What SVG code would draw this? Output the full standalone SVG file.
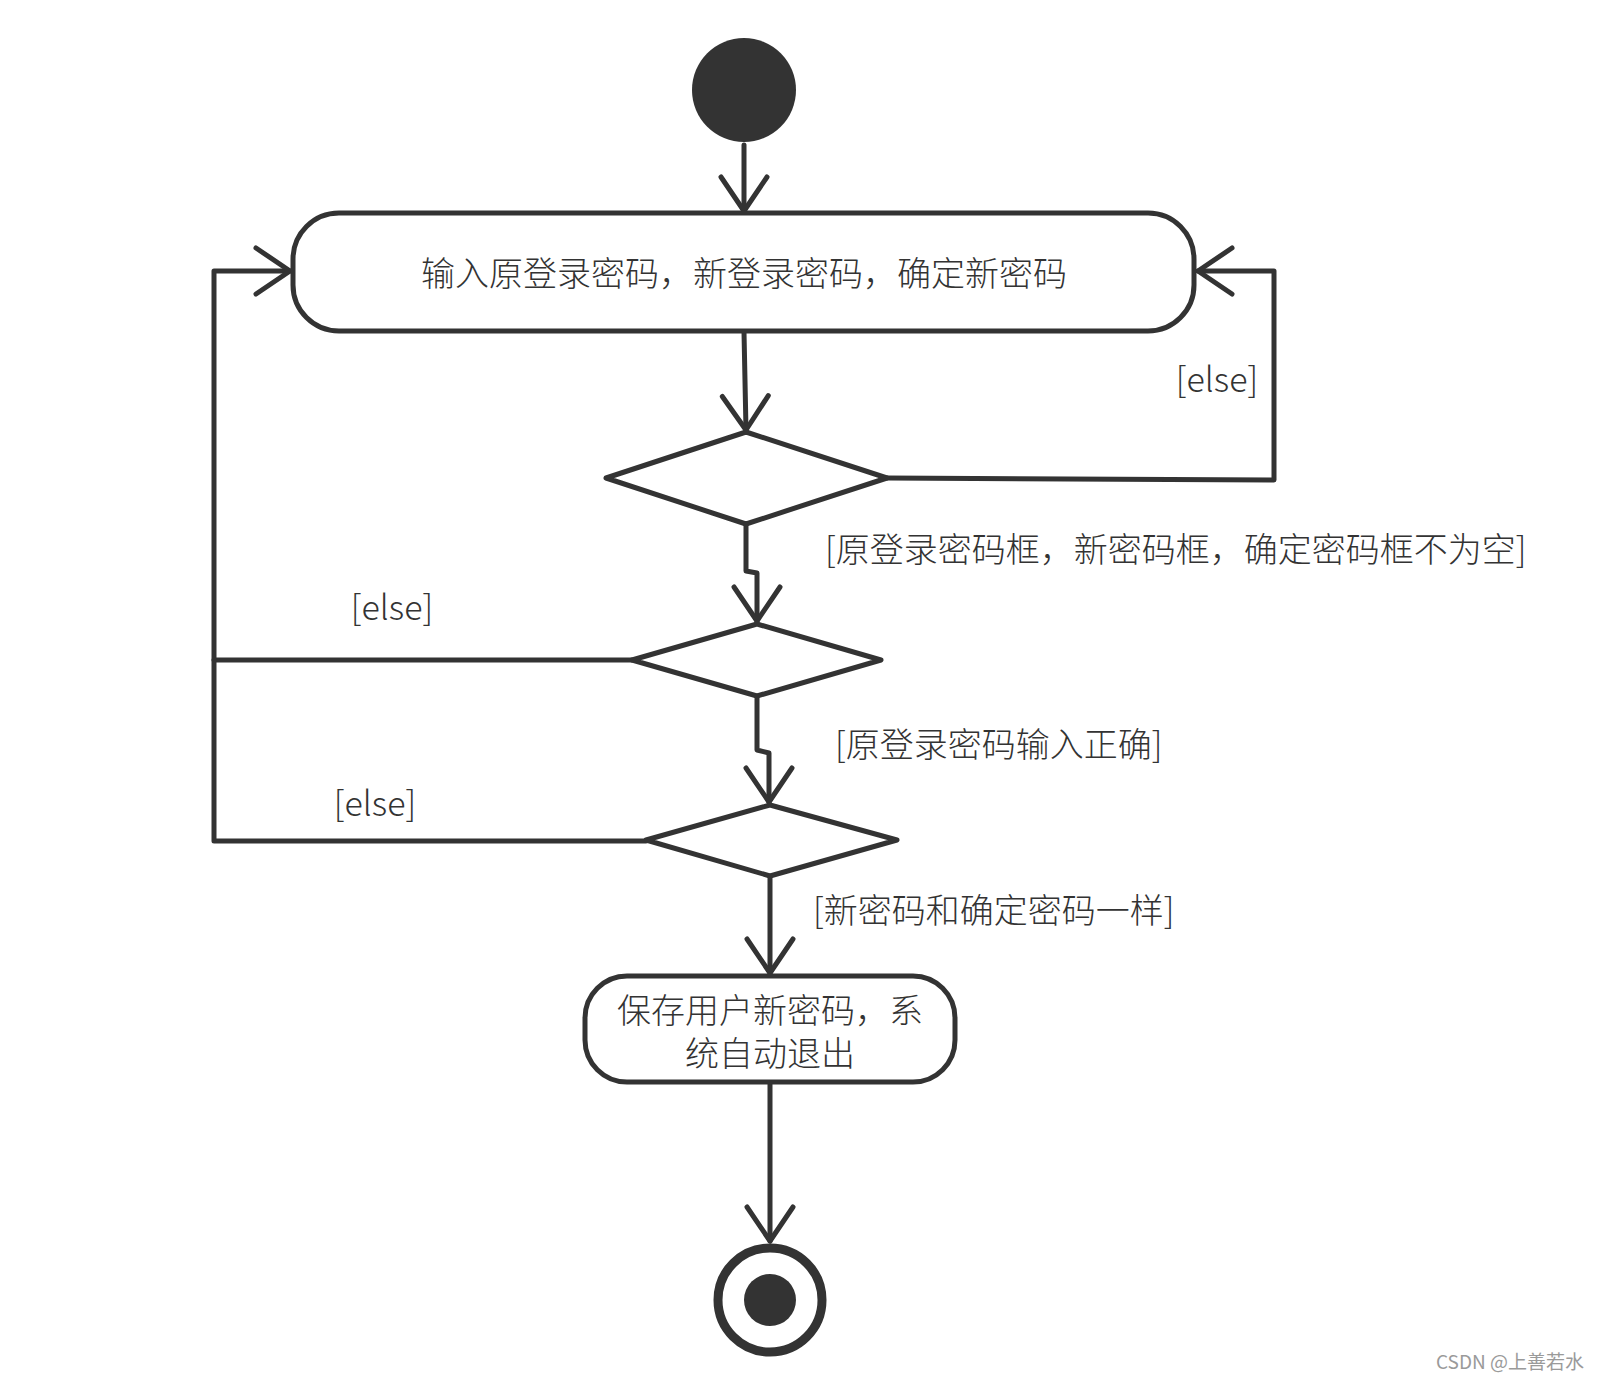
<svg xmlns="http://www.w3.org/2000/svg" width="1603" height="1380" viewBox="0 0 1603 1380">
<defs>
<style>
.shape{fill:#ffffff;stroke:#333333;stroke-width:5;stroke-linejoin:round}
.edge{fill:none;stroke:#333333;stroke-width:5;stroke-linejoin:round;stroke-linecap:round}
.lbl{font-family:"Noto Sans CJK SC","Noto Sans",sans-serif;font-size:34px;font-weight:300;fill:#333333}
.mid{text-anchor:middle}
.wm{font-family:"Noto Sans CJK SC","Noto Sans",sans-serif;font-size:19px;fill:#9a9a9a}
</style>
<marker id="arr" markerUnits="userSpaceOnUse" markerWidth="60" markerHeight="60" viewBox="-40 -30 50 60" refX="0" refY="0" orient="auto">
<path d="M-34,-23 L0,0 L-34,23" fill="none" stroke="#333333" stroke-width="5" stroke-linecap="round" stroke-linejoin="round"/>
</marker>
</defs>
<rect width="1603" height="1380" fill="#ffffff"/>

<g id="connectors">
<path class="edge" d="M744,145 L744,211" marker-end="url(#arr)"/>
<path class="edge" d="M744,332 L746,430" marker-end="url(#arr)"/>
<path class="edge" d="M887,478 L1274,480 L1274,271 L1198,271" marker-end="url(#arr)"/>
<path class="edge" d="M746,524 L746,571 L757,573 L757,621" marker-end="url(#arr)"/>
<path class="edge" d="M632,660 L214,660"/>
<path class="edge" d="M646,841 L214,841 L214,271 L290,271" marker-end="url(#arr)"/>
<path class="edge" d="M757,696 L757,750 L769,753 L769,802" marker-end="url(#arr)"/>
<path class="edge" d="M770,876 L770,973" marker-end="url(#arr)"/>
<path class="edge" d="M770,1084 L770,1241" marker-end="url(#arr)"/>
</g>

<g id="start">
<circle cx="744" cy="90" r="52" fill="#333333"/>
</g>

<g id="input">
<rect class="shape" x="293" y="213" width="901" height="118" rx="46" ry="46"/>
<text class="lbl mid" x="744" y="286">输入原登录密码，新登录密码，确定新密码</text>
</g>

<g id="decision1">
<polygon class="shape" points="746,432 887,478 746,524 606,478"/>
</g>

<g id="decision2">
<polygon class="shape" points="757,624 881,660 757,696 632,660"/>
</g>

<g id="decision3">
<polygon class="shape" points="770,805 897,840 770,876 646,840"/>
</g>

<g id="save">
<rect class="shape" x="585" y="976" width="370" height="106" rx="42" ry="42"/>
<text class="lbl mid" x="770" y="1023">保存用户新密码，系</text>
<text class="lbl mid" x="770" y="1066">统自动退出</text>
</g>

<g id="end">
<circle cx="770" cy="1300" r="52" fill="#ffffff" stroke="#333333" stroke-width="9"/>
<circle cx="770" cy="1300" r="26" fill="#333333"/>
</g>

<g id="labels">
<text class="lbl mid" x="1217" y="392">[else]</text>
<text class="lbl" x="825" y="562">[原登录密码框，新密码框，确定密码框不为空]</text>
<text class="lbl mid" x="392" y="620">[else]</text>
<text class="lbl" x="835" y="757">[原登录密码输入正确]</text>
<text class="lbl mid" x="375" y="816">[else]</text>
<text class="lbl" x="813" y="923">[新密码和确定密码一样]</text>
</g>

<text class="wm" x="1436" y="1369">CSDN @上善若水</text>
</svg>
